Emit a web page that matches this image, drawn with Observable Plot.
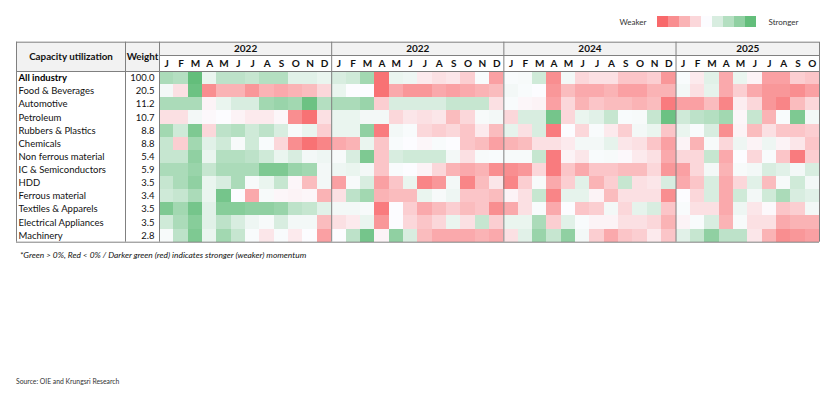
<!DOCTYPE html>
<html><head><meta charset="utf-8">
<script src="https://cdn.jsdelivr.net/npm/d3@7"></script>
<script src="https://cdn.jsdelivr.net/npm/@observablehq/plot@0.6"></script>
<style>
html,body{margin:0;padding:0;background:#fff;}
body{width:840px;height:393px;position:relative;overflow:hidden;font-family:Lato,"Noto Sans",sans-serif;}
#table{position:absolute;left:0;top:0;}
#legend{position:absolute;left:0;top:0;}
#note{position:absolute;left:20px;top:250px;font-style:italic;font-size:8.4px;line-height:10px;color:#111;white-space:nowrap;}
#source{position:absolute;left:16px;top:377px;font-size:6.8px;line-height:9px;color:#333;white-space:nowrap;}
</style></head><body>
<div id="table"></div>
<div id="legend"></div>
<div id="note">*Green &gt; 0%, Red &lt; 0% / Darker green (red) indicates stronger (weaker) momentum</div>
<div id="source">Source: OIE and Krungsri Research</div>
<script>
// ---------- data ----------
const industries = ["All industry","Food & Beverages","Automotive","Petroleum","Rubbers & Plastics","Chemicals","Non ferrous material","IC & Semiconductors","HDD","Ferrous material","Textiles & Apparels","Electrical Appliances","Machinery"];
const weights = [100.0,20.5,11.2,10.7,8.8,8.8,5.4,5.9,3.5,3.4,3.5,3.5,2.8];
const years = ["2022","2022","2024","2025"];
const yearMonths = [12,12,12,10];
const monthLetters = ["J","F","M","A","M","J","J","A","S","O","N","D"];
const legendSteps = [-8,-6,-4,-2,0,2,4,6,8.5];

// momentum values (green > 0, red < 0), 12+12+12+10 months
const allIndustry = [4.5,4,9,1,3.5,3.5,3,4,4,1.5,1.5,1, 2,2.5,5,-7.5,1,0.8,-1,-1.5,-1.2,-2.5,0.2,-5, 0.2,0.3,2.5,-6,0.5,-2,-1.5,-1.5,-3,-3,-2.5,-5.5, 0.2,-1,1.5,-4.5,1,-0.5,-5,-5,-2.5,-3];
const foodBeverages = [0.5,-1.5,8,-6,-4,-4,-5.5,-4,-4.5,-4,-3.5,-2, 1,0,0,-7.5,-4.5,-5.5,-5.5,-4.5,-5,-4.5,-4,-3.5, 0.5,0.2,0,-5.5,-3.5,-4.5,-4.5,-4,-5,-5,-4,-4, 0.5,-1.5,1.2,-4.5,-2.5,-4.5,-5.5,-5.5,-6,-5];
const automotive = [4.5,4.5,4.5,-0.5,1,2,2,5,5.5,5,8,4, 4.5,4.5,5.5,-2.5,2,2,2,2,3,3,3,-1.5, 0.2,-0.3,-0.5,-5,-2,-4,-3,-3.5,-3.5,-4,-3.5,-7, -5,-5,-3.5,-6.5,-0.8,-2,-5.5,-6.5,-3.5,-2];
const petroleum = [-1.5,-1.5,0.5,-0.2,0,-0.5,-1,-1,-0.3,-6,-7.5,-1.5, 1,1,0.5,0.5,-2,-1.2,-1.5,-1.2,-3.5,-2,0.3,0.5, -2,2,2,7.5,-2,1,1.5,3,0.2,0.3,3,8, 2.5,3.5,4,5,-0.3,3,-4,0.2,7,0.5];
const rubbersPlastics = [5,2.5,7,-2,3.5,4,2.5,3.5,2,0.3,1,-2.5, 1,1,6,-7,0.5,0.2,-2,-2.5,-2,-3,-1,-3.5, 1.2,-1.5,2,-7,0,-2,0.2,-1,-2.5,0.5,1,-3, 1,0.2,2,-6,-0.5,-3.5,-1.5,-3,-3,-2.5];
const chemicals = [3,-2.5,5,1.5,2.5,0.3,2.5,0.2,-2,-6,-7.5,-6.5, -4.5,-4,1,-3,0.2,0,-0.3,0.2,0,-3,-3.5,-5, -4,-3.5,-1.5,-1.5,-1,0.5,0.5,1.2,-1.2,-1.5,-3,-5, -0.5,-4,0.3,-2,0.8,-0.5,0.8,-0.5,-1.2,-3];
const nonFerrous = [3,3,6,1,4,4,3.5,2.5,1,2,0.5,0.8, 0.3,2,7,-3,2,2.5,2.5,2.5,0.5,-1.5,0.3,0.2, 0.3,0.3,3,-7,-0.5,-1.2,0.2,0.3,-0.2,-1,-1.5,-4.5, -2,-2,3,-4.5,0,-2,0.2,-3,-7,-2.5];
const icSemiconductors = [4.5,4.5,5.5,3,4.5,4.5,4.5,7,7,5.5,5,0.5, 0.8,1,0.5,-3,0.2,0,-0.5,-2,-4,-4.5,-4,-6, -6,-5.5,-2,-7,-3,-4.5,-3,-3,-3.5,-3.5,-2,-5.5, -5,-2,0.5,-4,0.3,0.5,2,1.5,0.5,2];
const hdd = [3,4.5,6,1,2,4.5,0.3,1,3,-0.3,-3.5,0.5, -5,0.3,2,-5,-3,1,-6.5,-5.5,0.5,-6.5,-3.5,-1.2, -6.5,-2.5,0.3,-4.5,-2.5,1.5,-4,-2.5,3,-1.5,-1.2,2, -4.5,-3,2,-4.5,-2,1.5,-3.5,0.3,2.5,0.5];
const ferrous = [2.5,3,4.5,1,7.5,0,-4.5,0.3,-0.3,-0.5,-0.3,-4, -1.5,3.5,5,-4,-3.5,-3.5,1,0.3,0.8,-3,-3,-3.5, -0.5,-1.5,3,-6.5,1.2,1.2,-0.5,-3.5,-1.5,-1.5,-1.5,-6, 0,-2,2,-4.5,2.5,0.5,2.5,4.5,2,1.5];
const textiles = [7,5,7.5,1.5,6.5,6.5,6,6,5.5,3.5,3,1.5, 0.5,0.5,0.3,-7,0,-2.5,-4.5,-3.5,-2.5,-3.5,-3,-6, -4.5,-1.5,0.2,-4.5,0,-3,-2.5,0.5,-2,1.2,2,-3, 0.2,-1.5,-1.5,-4.5,0.8,-1.2,-0.2,-3,-2.5,0.5];
const electrical = [2.5,4.5,6.5,1.5,3.5,2,0.8,0.3,2,0.5,0.5,-3.5, -1.5,-1,1,-5.5,0,-2,-3,-2,1,-1.5,3,-2.5, 1,1,4.5,-2.5,1.5,0.2,-0.5,-0.5,-1.5,-1.5,-2,-4, -0.5,0.2,2,-4,0.3,-1.5,-1.5,-4.5,-4,-4];
const machinery = [0.3,3.5,7,1,5,3,0.2,-1.2,0.2,-1,0,-5, 0,3.5,7.5,-0.5,6,2,-3.5,-4.5,-4.5,-4.5,-4,-4.5, -1.5,1.5,5.5,3,6,0.5,-2.5,-4.5,-3,-2.5,-1,-3, 1.5,3,6,3.5,3.5,-1.2,-4,-6,-5.5,-5];

const rows = [allIndustry,foodBeverages,automotive,petroleum,rubbersPlastics,chemicals,nonFerrous,icSemiconductors,hdd,ferrous,textiles,electrical,machinery];

// ---------- layout ----------
const X0 = 16, XW = 125, XM = 159, XE = 819;
const nCols = d3.sum(yearMonths);
const cw = (XE - XM) / nCols;
const xu = px => (px - XM) / cw;
const YT = 41.7, YM = 55, YD = 71, YB = 241.7;
const rh = (YB - YD) / rows.length;
const yu = px => (px - YD) / rh;

const colorScale = {type: "linear", domain: [-8, 0, 8.5], range: ["#F8696B", "#FCFCFF", "#63BE7B"], interpolate: "rgb", clamp: true};

const cells = rows.flatMap((vals, r) => vals.map((v, c) => ({row: r, col: c, value: v})));
const blockStarts = d3.cumsum([0, ...yearMonths]).slice(0, years.length);
const blocks = years.map((y, b) => ({year: y, start: blockStarts[b], n: yearMonths[b]}));
const monthCols = blocks.flatMap(b => d3.range(b.n).map(m => ({col: b.start + m, letter: monthLetters[m]})));

const vLines = [xu(X0), xu(XW), ...blockStarts, nCols];
const font = "Lato, 'Noto Sans', sans-serif";
const lineColor = "#808080";
const labelSize = 9.5;

const table = Plot.plot({
  width: 840, height: 250,
  margin: 0,
  style: {fontFamily: font, background: "transparent"},
  x: {domain: [xu(X0), nCols], range: [X0, XE], axis: null},
  y: {domain: [yu(YT), rows.length], range: [YT, YB], axis: null},
  color: colorScale,
  marks: [
    // header backgrounds
    Plot.rect([{x1: xu(X0), x2: 0, y1: yu(YT), y2: 0}, {x1: 0, x2: nCols, y1: yu(YT), y2: yu(YM)}],
      {x1: "x1", x2: "x2", y1: "y1", y2: "y2", fill: "#f2f2f2"}),
    // heat cells
    Plot.rect(cells, {x1: d => d.col, x2: d => d.col + 1, y1: d => d.row, y2: d => d.row + 1, fill: "value", shapeRendering: "crispEdges"}),
    // borders
    Plot.ruleX(vLines, {x: d => d, y1: yu(YT), y2: rows.length, stroke: lineColor, strokeWidth: 1}),
    Plot.ruleY([yu(YT), 0, rows.length], {y: d => d, x1: xu(X0), x2: nCols, stroke: lineColor, strokeWidth: 1}),
    Plot.ruleY([yu(YM)], {y: d => d, x1: 0, x2: nCols, stroke: lineColor, strokeWidth: 1}),
    // header text
    Plot.text(["Capacity utilization"], {x: (xu(X0) + xu(XW)) / 2, y: yu(YT) / 2, text: d => d, fontWeight: "bold", fontSize: 9.8, fill: "#111"}),
    Plot.text(["Weight"], {x: (xu(XW) + 0) / 2, y: yu(YT) / 2, text: d => d, fontWeight: "bold", fontSize: 9.8, fill: "#111"}),
    Plot.text(blocks, {x: d => d.start + d.n / 2, y: (yu(YT) + yu(YM)) / 2, text: "year", fontWeight: "bold", fontSize: 10, fill: "#111"}),
    Plot.text(monthCols, {x: d => d.col + 0.5, y: yu(YM) / 2, text: "letter", fontWeight: "bold", fontSize: 10, fill: "#111"}),
    // row labels
    Plot.text(industries, {filter: (d, i) => i === 0, x: xu(X0), dx: 2, y: (d, i) => i + 0.5, text: d => d, textAnchor: "start", fontWeight: "bold", fontSize: labelSize, fill: "#000"}),
    Plot.text(industries, {filter: (d, i) => i > 0, x: xu(X0), dx: 2, y: (d, i) => i + 0.5, text: d => d, textAnchor: "start", fontSize: labelSize, fill: "#111"}),
    Plot.text(weights, {x: xu(XM - 5), y: (d, i) => i + 0.5, text: d => d.toFixed(1), textAnchor: "end", fontSize: labelSize, fill: "#111"})
  ]
});
document.getElementById("table").appendChild(table);

// legend
const legend = Plot.plot({
  width: 840, height: 40,
  marginLeft: 654, marginRight: 81, marginTop: 16, marginBottom: 13,
  style: {fontFamily: font, background: "transparent"},
  x: {type: "band", domain: d3.range(legendSteps.length), padding: 0, axis: null},
  color: colorScale,
  marks: [
    Plot.cell(legendSteps, {x: (d, i) => i, fill: d => d}),
    Plot.text(["Weaker"], {frameAnchor: "left", dx: -8, textAnchor: "end", text: d => d, fontSize: 8, fill: "#333"}),
    Plot.text(["Stronger"], {frameAnchor: "right", dx: 9, textAnchor: "start", text: d => d, fontSize: 8, fill: "#333"})
  ]
});
document.getElementById("legend").appendChild(legend);
</script>
</body></html>
